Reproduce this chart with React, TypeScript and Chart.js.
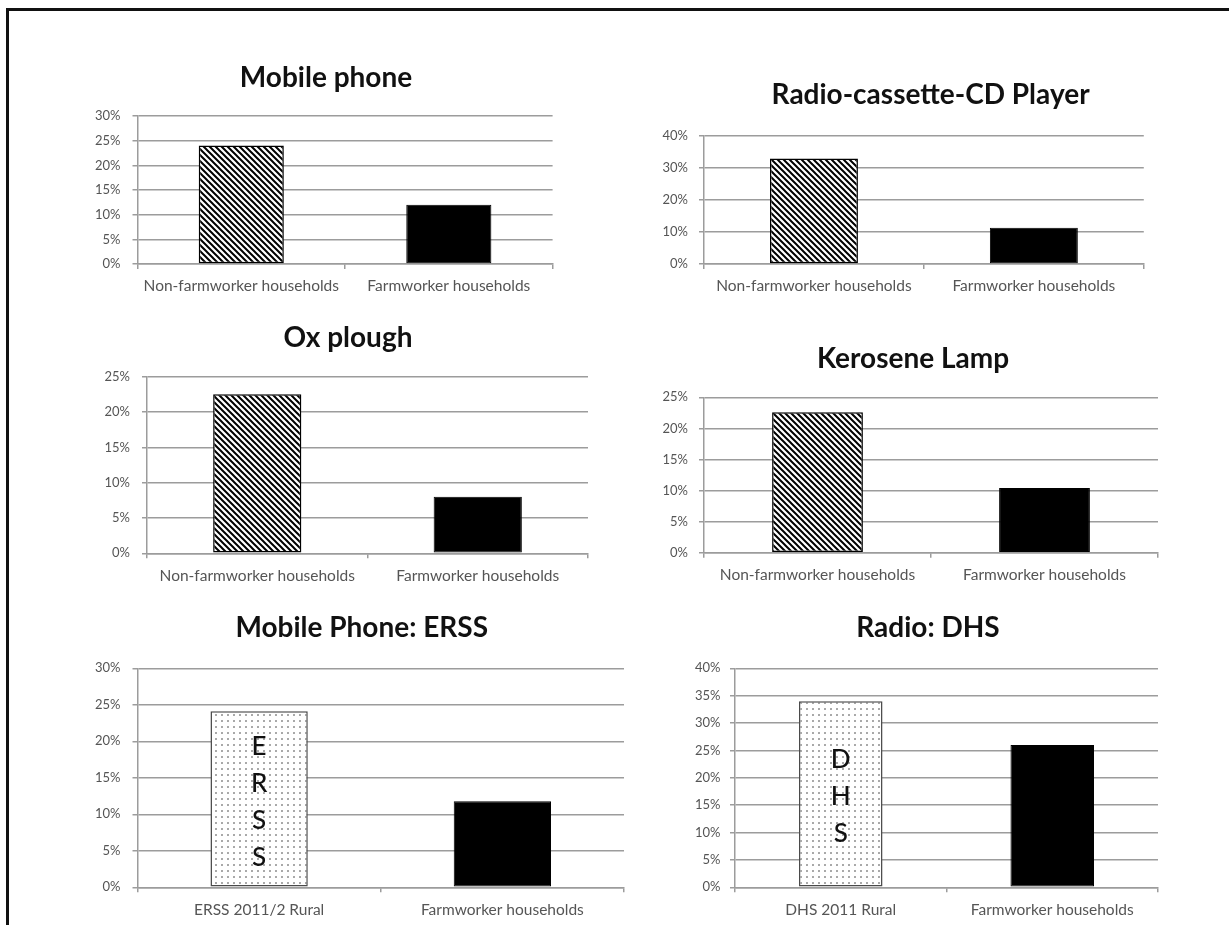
import React, { useEffect, useRef } from 'react';
import { Chart, registerables } from 'chart.js';

Chart.register(...registerables);

// ---------- data ----------
const householdCategories = ['Non-farmworker households', 'Farmworker households'];
const ersCategories = ['ERSS 2011/2 Rural', 'Farmworker households'];
const dhsCategories = ['DHS 2011 Rural', 'Farmworker households'];

const mobileValues = [24, 12];
const radioValues = [33, 11.3];
const oxValues = [22.5, 8];
const keroseneValues = [22.6, 10.4];
const ersValues = [24.1, 11.8];
const dhsValues = [34, 26];

const mobileAxis = { max: 30, step: 5 };
const radioAxis = { max: 40, step: 10 };
const oxAxis = { max: 25, step: 5 };
const keroseneAxis = { max: 25, step: 5 };
const ersAxis = { max: 30, step: 5 };
const dhsAxis = { max: 40, step: 5 };

const ersLetters = ['E', 'R', 'S', 'S'];
const dhsLetters = ['D', 'H', 'S'];

// ---------- layout (positions in page px) ----------
type Fill = 'hatch' | 'black' | 'dots';
interface Panel {
  title: string;
  categories: string[];
  values: number[];
  axis: { max: number; step: number };
  fills: Fill[];
  letters?: string[];
  area: [number, number, number, number]; // left, top, right, bottom
  titleAt: [number, number];
  yPad: number;
  barPct: number;
}

const panels: Panel[] = [
  { title: 'Mobile phone', categories: householdCategories, values: mobileValues, axis: mobileAxis, fills: ['hatch', 'black'], area: [137.5, 116, 552.6, 264], titleAt: [326, 78], yPad: 12, barPct: 0.41 },
  { title: 'Radio-cassette-CD Player', categories: householdCategories, values: radioValues, axis: radioAxis, fills: ['hatch', 'black'], area: [704, 136, 1143.8, 264], titleAt: [930.6, 95], yPad: 11, barPct: 0.4 },
  { title: 'Ox plough', categories: householdCategories, values: oxValues, axis: oxAxis, fills: ['hatch', 'black'], area: [147, 376.7, 588, 553.3], titleAt: [348, 338], yPad: 12, barPct: 0.4 },
  { title: 'Kerosene Lamp', categories: householdCategories, values: keroseneValues, axis: keroseneAxis, fills: ['hatch', 'black'], area: [704, 397.3, 1158, 552.7], titleAt: [913, 359], yPad: 11, barPct: 0.4 },
  { title: 'Mobile Phone: ERSS', categories: ersCategories, values: ersValues, axis: ersAxis, fills: ['dots', 'black'], letters: ersLetters, area: [137.5, 668.3, 624, 887.3], titleAt: [361.7, 628], yPad: 12, barPct: 0.4 },
  { title: 'Radio: DHS', categories: dhsCategories, values: dhsValues, axis: dhsAxis, fills: ['dots', 'black'], letters: dhsLetters, area: [735, 668.3, 1158, 887.3], titleAt: [928, 628], yPad: 9.5, barPct: 0.395 },
];

const FONT = 'Lato';
const GRID = '#9c9c9c';
const TICK_TEXT = '#555555';

function makePattern(kind: Fill): CanvasPattern | string {
  if (kind === 'black') return '#000000';
  const c = document.createElement('canvas');
  const s = 6;
  c.width = s;
  c.height = s;
  const g = c.getContext('2d')!;
  g.fillStyle = '#ffffff';
  g.fillRect(0, 0, s, s);
  if (kind === 'hatch') {
    g.strokeStyle = '#000000';
    g.lineWidth = 2;
    g.beginPath();
    g.moveTo(-1, -1); g.lineTo(s + 1, s + 1);
    g.moveTo(-s / 2 - 1, s / 2 - 1); g.lineTo(s / 2 + 1, s * 1.5 + 1);
    g.moveTo(s / 2 - 1, -s / 2 - 1); g.lineTo(s * 1.5 + 1, s / 2 + 1);
    g.stroke();
  } else {
    g.fillStyle = '#858585';
    g.beginPath();
    g.arc(3, 3, 0.95, 0, Math.PI * 2);
    g.fill();
  }
  return g.createPattern(c, 'repeat')!;
}

function BarPanel({ p }: { p: Panel }) {
  const ref = useRef<HTMLCanvasElement>(null);
  const [al, at, ar, ab] = p.area;
  const L = Math.round(al - 75);
  const T = Math.round(p.titleAt[1] - 24);
  const R = Math.round(ar + 8);
  const B = Math.round(ab + 36);
  const W = R - L;
  const H = B - T;

  useEffect(() => {
    const canvas = ref.current!;
    const fills = p.fills.map(makePattern);
    const borders = p.fills.map((f) => (f === 'dots' ? '#4a4a4a' : '#000000'));
    const titleSize = 28;
    const lh = titleSize * 1.2;
    const titleCx = p.titleAt[0] - L;

    const lettersPlugin = {
      id: 'barLetters',
      afterDatasetsDraw(chart: any) {
        if (!p.letters) return;
        const bar = chart.getDatasetMeta(0).data[0];
        const ctx = chart.ctx;
        const mid = (bar.y + bar.base) / 2;
        const gap = 37;
        const n = p.letters.length;
        ctx.save();
        ctx.font = `500 26px ${FONT}`;
        ctx.fillStyle = '#111111';
        ctx.textAlign = 'center';
        ctx.textBaseline = 'middle';
        p.letters.forEach((ch, i) => {
          ctx.fillText(ch, bar.x, mid + 3 + (i - (n - 1) / 2) * gap);
        });
        ctx.restore();
      },
    };

    const titleMover = {
      id: 'titleMover',
      afterLayout(chart: any) {
        const t = chart.titleBlock;
        if (t) {
          t.left = titleCx - 300;
          t.right = titleCx + 300;
        }
      },
    };

    const chart = new Chart(canvas, {
      type: 'bar',
      data: {
        labels: p.categories,
        datasets: [
          {
            data: p.values,
            backgroundColor: fills as any,
            borderColor: borders,
            borderWidth: [1.5, 1],
            borderSkipped: false,
            barPercentage: p.barPct,
            categoryPercentage: 1,
          },
        ],
      },
      options: {
        responsive: false,
        animation: false,
        devicePixelRatio: 1,
        layout: { padding: { left: 0, right: R - ar, top: 0, bottom: 0 } },
        plugins: {
          legend: { display: false },
          tooltip: { enabled: false },
          title: {
            display: true,
            text: p.title,
            color: '#111111',
            font: { family: FONT, size: titleSize, weight: 'bold', lineHeight: 1.2 },
            padding: { top: p.titleAt[1] - T - lh / 2, bottom: at - p.titleAt[1] - lh / 2 },
          },
        },
        scales: {
          x: {
            grid: { offset: true, drawOnChartArea: false, drawTicks: true, tickLength: 5, color: GRID, lineWidth: 1.5 },
            border: { color: GRID, width: 1.5 },
            ticks: { padding: 8, color: TICK_TEXT, font: { family: FONT, size: 15.5 }, maxRotation: 0, autoSkip: false },
            afterFit: (s: any) => { s.height = B - ab; },
          },
          y: {
            min: 0,
            max: p.axis.max,
            grid: { color: GRID, lineWidth: 1.5, tickLength: 5, drawTicks: true },
            border: { color: GRID, width: 1.5 },
            ticks: {
              stepSize: p.axis.step,
              padding: p.yPad,
              color: TICK_TEXT,
              font: { family: FONT, size: 13 },
              callback: (v: any) => `${v}%`,
            },
            afterFit: (s: any) => { s.width = al - L; },
          },
        },
      } as any,
      plugins: [lettersPlugin, titleMover],
    });
    return () => chart.destroy();
  }, []);

  return (
    <canvas
      ref={ref}
      width={W}
      height={H}
      style={{ position: 'absolute', left: L, top: T, width: W, height: H }}
    />
  );
}

export default function App() {
  return (
    <div
      style={{
        position: 'absolute',
        left: 0,
        top: 0,
        width: 1229,
        height: 925,
        background: '#ffffff',
        overflow: 'hidden',
        fontFamily: FONT,
      }}
    >
      <div
        style={{
          position: 'absolute',
          left: 6,
          top: 8,
          width: 1240,
          height: 940,
          borderTop: '3px solid #111',
          borderLeft: '3px solid #111',
        }}
      />
      {panels.map((p, i) => (
        <BarPanel key={i} p={p} />
      ))}
    </div>
  );
}
